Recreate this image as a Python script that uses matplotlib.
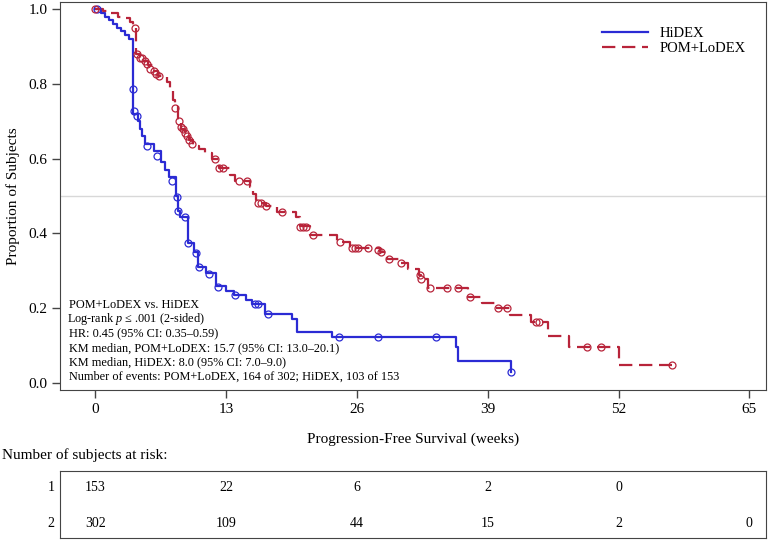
import numpy as np
import matplotlib
matplotlib.use("Agg")
from matplotlib import pyplot as plt

plt.rcParams['font.family'] = ['Liberation Serif', 'DejaVu Serif']
plt.rcParams['mathtext.fontset'] = 'custom'
plt.rcParams['mathtext.it'] = 'Liberation Serif:italic'
plt.rcParams['mathtext.rm'] = 'Liberation Serif'

# HiDEX KM steps (weeks, proportion)
hi_t = [0, 0.6, 1.0, 1.4, 1.8, 2.2, 2.6, 3.0, 3.4, 3.8, 4.3, 4.5, 4.7, 5.0, 5.8, 6.5, 6.9, 7.3,
        8.0, 8.2, 8.4, 9.2, 9.8, 10.2, 11.0, 12.0, 13.0, 13.8, 15.0, 15.6, 16.9, 19.6, 20.1,
        23.5, 35.9, 36.1, 41.3]
hi_s = [1.0, 0.99, 0.98, 0.97, 0.96, 0.95, 0.94, 0.93, 0.92, 0.72, 0.70, 0.68, 0.66, 0.64, 0.62,
        0.59, 0.57, 0.55, 0.50, 0.46, 0.445, 0.375, 0.35, 0.31, 0.295, 0.26, 0.245, 0.235, 0.222,
        0.211, 0.184, 0.17, 0.137, 0.123, 0.095, 0.059, 0.03]
# HiDEX censored
hi_ct = [0.2, 3.8, 3.9, 4.2, 5.2, 6.1, 7.6, 8.1, 8.2, 8.9, 9.2, 10.0, 10.3, 11.3, 12.2, 13.9,
         15.9, 16.2, 17.2, 24.2, 28.1, 33.9, 41.3]
hi_cs = [1.0, 0.786, 0.727, 0.714, 0.635, 0.606, 0.54, 0.497, 0.46, 0.444, 0.375, 0.348, 0.31,
         0.29, 0.257, 0.235, 0.211, 0.211, 0.184, 0.123, 0.123, 0.123, 0.03]

# POM+LoDEX KM steps
pom_t = [0, 0.8, 1.5, 2.3, 3.0, 3.5, 3.8, 4.1, 4.5, 4.9, 5.3, 5.7, 6.2, 7.1, 7.4, 7.7, 7.9, 8.2,
         8.5, 8.9, 9.3, 9.7, 10.3, 10.9, 11.6, 12.3, 13.4, 13.9, 15.4, 15.7, 16.0, 16.3, 17.0,
         18.1, 20.0, 20.4, 21.3, 24.0, 25.3, 28.3, 29.0, 30.2, 31.1, 32.2, 32.4, 33.1, 37.0,
         38.4, 39.8, 41.2, 43.3, 45.0, 47.1, 52.0, 57.3]
pom_s = [1.0, 0.995, 0.99, 0.98, 0.975, 0.965, 0.955, 0.88, 0.87, 0.86, 0.85, 0.835, 0.82, 0.805,
         0.78, 0.757, 0.74, 0.70, 0.68, 0.665, 0.65, 0.635, 0.625, 0.615, 0.60, 0.575, 0.555,
         0.54, 0.525, 0.505, 0.49, 0.48, 0.472, 0.457, 0.444, 0.42, 0.396, 0.377, 0.361, 0.35,
         0.332, 0.321, 0.305, 0.289, 0.278, 0.254, 0.23, 0.214, 0.20, 0.182, 0.163, 0.125,
         0.096, 0.048, 0.048]
# POM+LoDEX censored
pom_ct = [0, 4.0, 4.2, 4.5, 4.7, 5.0, 5.2, 5.5, 5.8, 6.0, 6.3, 7.9, 8.3, 8.5, 8.7, 8.9, 9.1, 9.3,
          9.6, 11.9, 12.3, 12.7, 14.3, 15.1, 16.2, 16.5, 17.0, 18.6, 20.4, 20.7, 21.0, 21.6,
          24.3, 25.5, 25.8, 26.1, 27.1, 28.1, 28.4, 29.2, 30.4, 32.3, 32.4, 33.3, 35.0, 36.1,
          37.2, 40.0, 40.9, 43.8, 44.1, 48.9, 50.3, 57.3]
pom_cs = [1.0, 0.95, 0.88, 0.87, 0.868, 0.86, 0.852, 0.84, 0.835, 0.825, 0.82, 0.735, 0.70,
          0.685, 0.68, 0.668, 0.66, 0.65, 0.64, 0.60, 0.575, 0.575, 0.54, 0.54, 0.48, 0.48,
          0.472, 0.457, 0.417, 0.417, 0.417, 0.396, 0.377, 0.361, 0.361, 0.361, 0.361, 0.356,
          0.35, 0.332, 0.321, 0.289, 0.278, 0.254, 0.254, 0.254, 0.23, 0.20, 0.20, 0.163,
          0.163, 0.096, 0.096, 0.048]

ticks = [0, 13, 26, 39, 52, 65]
risk_hi = ['153', '22', '6', '2', '0']
risk_pom = ['302', '109', '44', '15', '2', '0']

stats = ["POM+LoDEX vs. HiDEX",
         "Log-rank $p$ \u2264 .001 (2-sided)",
         "HR: 0.45 (95% CI: 0.35\u20130.59)",
         "KM median, POM+LoDEX: 15.7 (95% CI: 13.0\u201320.1)",
         "KM median, HiDEX: 8.0 (95% CI: 7.0\u20139.0)",
         "Number of events: POM+LoDEX, 164 of 302; HiDEX, 103 of 153"]

blue = '#2b2bd4'
red = '#b8243a'
frame = '#444444'

fig = plt.figure(figsize=(7.68, 5.42), dpi=100)
ax = fig.add_axes([0.078, 0.2804, 0.92, 0.716])

ax.axhline(0.5, color='#d8d8d8', lw=1, zorder=0)
ax.step(hi_t, hi_s, where='post', color=blue, lw=1.6, label='HiDEX')
ax.step(pom_t, pom_s, where='post', color=red, lw=1.6, dashes=(6, 3), label='POM+LoDEX')
ax.plot(hi_ct, hi_cs, 'o', mfc='none', mec=blue, ms=5, mew=0.9)
ax.plot(pom_ct, pom_cs, 'o', mfc='none', mec=red, ms=5, mew=0.9)

ax.set_xlim(-3.5, 66.7)
ax.set_ylim(-0.019, 1.019)
ax.set_xticks(ticks)
ax.set_yticks(np.arange(0, 1.01, 0.2))
ax.set_yticklabels(['%.1f' % v for v in np.arange(0, 1.01, 0.2)])
ax.tick_params(direction='out', length=6, width=1, color=frame, labelsize=11, pad=3)
for s in ax.spines.values():
    s.set_color(frame)
ax.set_xlabel('Progression-Free Survival (weeks)', fontsize=11, labelpad=12)
ax.set_ylabel('Proportion of Subjects', fontsize=11, labelpad=6)

# stats block, one line at a time (mathtext line sits ~2px right, pull it back)
for i, line in enumerate(stats):
    x0 = 69 - (2 if '$' in line else 0)
    fig.text(x0 / 768, 1 - (305 + 14.4 * i) / 542, line, fontsize=8.8,
             ha='left', va='center')

ax.legend(loc='upper right', bbox_to_anchor=(0.99, 0.97), frameon=False, fontsize=10.5,
          handlelength=3.2, labelspacing=0.15)

# at-risk table
fig.text(0.003, 0.16, 'Number of subjects at risk:', fontsize=11, va='center')
tb = fig.add_axes([0.078, 0.0074, 0.92, 0.1236])
tb.set_xlim(-3.5, 66.7)
tb.set_ylim(0, 1)
tb.set_xticks([])
tb.set_yticks([])
for s in tb.spines.values():
    s.set_color(frame)
for t, n in zip(ticks, risk_hi):
    tb.text(t, 0.76, n, ha='center', va='center', fontsize=10)
for t, n in zip(ticks, risk_pom):
    tb.text(t, 0.22, n, ha='center', va='center', fontsize=10)
tb.text(-0.008, 0.76, '1', transform=tb.transAxes, ha='right', va='center', fontsize=10)
tb.text(-0.008, 0.22, '2', transform=tb.transAxes, ha='right', va='center', fontsize=10)

fig.savefig('out.png', dpi=100)
